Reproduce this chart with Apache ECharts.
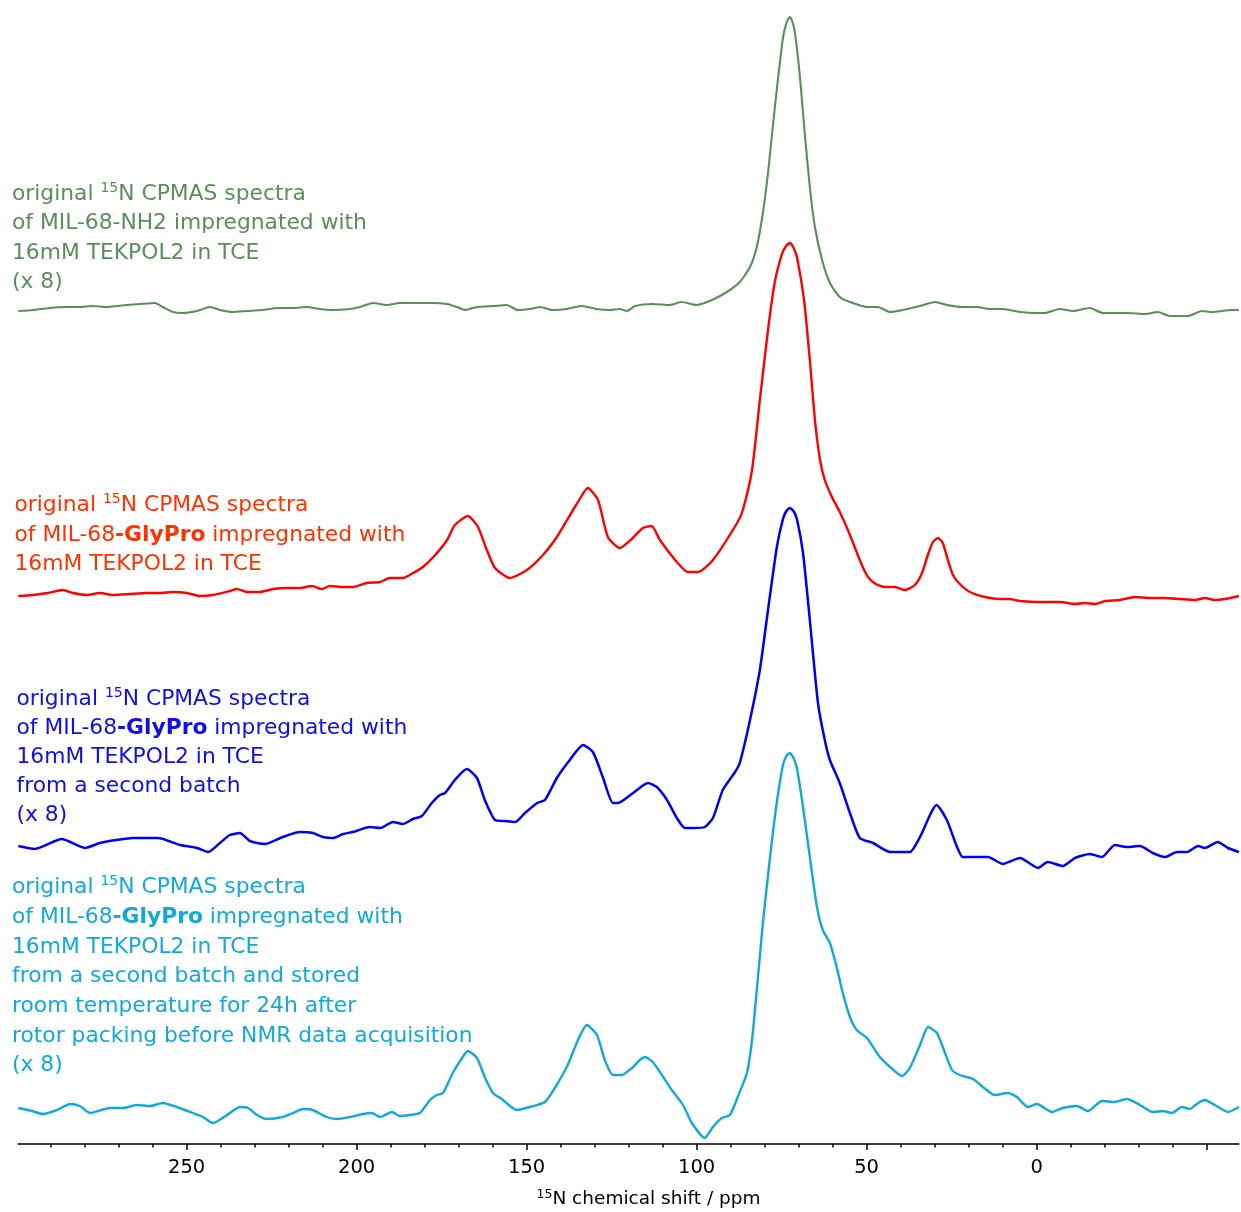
<!DOCTYPE html>
<html>
<head>
<meta charset="utf-8">
<script src="https://cdn.jsdelivr.net/npm/echarts@6/dist/echarts.min.js"></script>
<style>
html,body{margin:0;padding:0;background:#ffffff;}
#chart{width:1241px;height:1212px;}
</style>
</head>
<body>
<div id="chart"></div>
<script>
// ---- data: [chemical shift (ppm), relative intensity] ----
const greenSpectrum = [
[299.5,-1],[295.2,0],[290.2,2],[285.2,3],[281.4,3],[277.6,4],[273.4,3],[270.5,4],[267.6,5],[263.7,6],
[259.3,7],[257.0,3],[254.0,-2],[251.1,-3],[247.0,-1],[243.1,3],[240.2,0],[236.4,-2],[232.3,-1],[227.6,0],
[223.4,2],[218.7,2],[214.6,3],[210.8,1],[207.0,0],[202.0,1],[199.0,3],[195.2,7],[191.1,5],[187.3,7],
[181.4,7],[177.6,7],[173.4,6],[170.5,3],[168.1,0],[164.6,3],[159.9,4],[155.8,5],[152.6,0],[149.0,1],
[146.1,3],[142.3,0],[138.2,1],[133.8,4],[129.4,1],[125.5,0],[122.6,1],[120.5,-1],[118.1,4],[112.9,6],
[107.9,5],[104.4,8],[100.0,5],[95.5,10],[91.1,18],[87.3,28],[84.3,43],[82.3,63],[80.5,97],[79.0,137],
[77.6,183],[76.1,230],[74.6,272],[73.6,287],[72.6,293],[71.9,289],[71.1,278],[69.6,233],[68.2,177],[66.7,123],[65.2,83],[63.1,50],
[60.8,27],[57.9,13],[54.9,8],[49.9,3],[46.7,3],[43.1,-2],[39.3,0],[34.3,4],[29.9,8],[26.4,5],
[21.7,3],[17.6,3],[13.7,1],[9.9,1],[4.9,-2],[-0.4,-3],[-2.4,-3],[-6.8,1],[-10.7,-1],[-15.7,2],
[-19.5,-3],[-26.9,-3],[-31.9,-4],[-35.7,-2],[-39.2,-6],[-44.5,-6],[-48.6,-1],[-51.6,-2],[-57.4,0],[-59.5,0]
];
const redSpectrum = [
[299.5,0],[295.2,1],[290.8,3],[286.4,6],[283.4,3],[279.3,1],[275.5,3],[271.6,1],[266.7,2],[261.7,3],
[257.9,3],[254.0,4],[249.9,3],[246.1,0],[242.3,1],[237.3,5],[235.2,7],[232.3,4],[228.4,4],[224.6,7],
[220.5,8],[216.7,8],[213.1,10],[210.2,7],[207.9,10],[204.0,9],[201.1,9],[197.0,13],[193.1,14],[190.2,18],
[186.4,18],[183.4,23],[180.5,29],[176.9,41],[173.4,56],[171.1,71],[167.3,80],[164.3,69],[161.7,46],[159.3,28],
[154.9,18],[149.9,26],[145.2,41],[141.1,59],[138.1,76],[134.9,94],[132.0,108],[129.0,96],[126.1,59],[122.6,48],
[118.8,58],[115.8,68],[113.2,70],[110.8,56],[105.8,34],[102.6,24],[99.6,24],[95.2,36],[88.1,73],[86.4,86],
[83.7,126],[81.4,196],[79.0,266],[77.0,314],[74.9,342],[73.7,350],[72.6,353],[71.6,349],[70.5,339],[68.4,296],[66.7,236],[65.2,176],
[63.7,136],[62.3,116],[60.2,99],[57.9,84],[55.5,66],[53.4,48],[51.4,31],[49.6,19],[47.3,12],[44.6,9],
[41.7,9],[38.7,6],[35.8,11],[33.7,23],[32.0,41],[30.5,54],[29.0,58],[27.6,53],[26.1,36],[24.6,21],
[22.6,12],[19.6,4],[15.2,-1],[10.8,-3],[7.9,-3],[4.9,-5],[-1.0,-6],[-6.9,-6],[-11.3,-8],[-14.2,-7],
[-17.2,-8],[-20.1,-5],[-24.5,-4],[-28.9,-1],[-33.3,-2],[-37.7,-2],[-42.1,-3],[-46.6,-4],[-49.5,-2],[-52.4,-4],
[-55.4,-3],[-59.5,0]
];
const blueSpectrum = [
[299.5,2],[294.6,-1],[286.7,9],[279.9,0],[275.5,5],[272.6,7],[265.8,10],[258.7,10],[256.9,9],[251.9,3],
[246.9,0],[243.7,-4],[240.2,5],[237.3,13],[234.3,15],[231.4,7],[227.0,4],[221.7,11],[216.7,16],[212.9,15],
[209.9,11],[207.0,10],[204.0,14],[201.1,16],[196.1,21],[193.1,20],[189.3,26],[186.4,24],[183.4,29],[180.8,32],
[177.9,45],[175.5,53],[174.0,55],[171.1,68],[167.6,79],[164.6,70],[162.3,48],[159.3,28],[156.4,27],[153.4,26],
[150.5,35],[146.9,45],[144.6,48],[141.1,70],[137.3,88],[133.4,103],[130.5,96],[127.6,71],[124.6,45],[123.1,45],
[118.7,55],[114.3,65],[111.7,61],[108.7,48],[105.8,30],[103.4,20],[101.1,20],[97.6,21],[95.2,30],[92.3,58],
[88.7,76],[87.3,85],[84.3,128],[81.4,178],[79.0,238],[76.4,301],[74.6,329],[73.6,337],[72.6,340],[71.5,337],[70.5,329],[68.7,295],
[66.7,228],[64.3,145],[62.3,108],[60.8,88],[57.9,65],[54.9,35],[52.0,10],[48.1,5],[43.1,-4],[37.3,-4],
[34.3,11],[29.4,43],[26.4,28],[23.4,1],[21.7,-9],[16.7,-9],[14.3,-9],[9.9,-16],[4.9,-10],[-0.4,-20],
[-3.3,-14],[-7.7,-18],[-11.3,-10],[-15.7,-6],[-19.2,-9],[-23.0,3],[-26.6,1],[-30.4,2],[-34.2,-5],[-37.7,-9],
[-41.3,-4],[-44.2,-4],[-47.5,2],[-49.5,0],[-53.3,6],[-56.3,0],[-59.5,-4]
];
const cyanSpectrum = [
[299.5,0],[295.5,-3],[292.3,-6],[288.1,-2],[284.3,4],[281.4,2],[278.4,-5],[272.6,0],[268.7,0],[264.6,3],
[260.8,2],[257.0,5],[252.9,1],[248.2,-5],[245.2,-9],[242.3,-15],[238.1,-7],[234.3,1],[231.9,0],[229.3,-7],
[226.4,-11],[221.7,-9],[218.7,-5],[215.8,-1],[212.9,-2],[208.8,-9],[205.8,-11],[202.0,-9],[198.1,-6],[195.5,-5],
[193.1,-9],[189.6,-4],[187.3,-8],[184.3,-7],[181.4,-5],[178.4,8],[176.4,13],[174.6,15],[171.7,35],[169.0,50],
[167.3,57],[164.6,50],[162.3,31],[159.9,15],[157.3,9],[154.9,2],[152.9,-2],[149.0,1],[144.6,6],[141.7,20],
[137.9,43],[134.9,68],[132.3,83],[129.3,73],[127.0,48],[124.6,33],[122.0,33],[119.0,40],[116.7,48],[115.2,51],
[112.9,46],[110.2,33],[107.3,18],[104.0,3],[101.4,-15],[97.6,-30],[95.2,-19],[92.6,-10],[90.2,-7],[87.9,11],
[85.2,35],[83.7,68],[82.3,118],[80.5,185],[78.4,251],[76.4,306],[74.6,343],[73.6,352],[72.6,355],[71.5,350],[70.5,340],[68.7,301],
[66.7,251],[64.6,201],[62.9,178],[60.8,165],[58.8,141],[57.0,115],[54.9,91],[52.9,78],[49.9,70],[46.1,51],
[43.1,41],[39.6,32],[37.3,40],[34.3,63],[31.9,81],[29.3,75],[27.6,61],[24.9,38],[22.6,33],[18.7,29],
[15.8,21],[12.3,13],[8.4,15],[5.8,11],[2.6,1],[-0.1,4],[-4.5,-4],[-7.7,0],[-11.9,2],[-15.1,-3],
[-19.2,7],[-23.0,6],[-26.6,9],[-30.4,3],[-34.2,-4],[-37.1,-3],[-39.8,-5],[-42.7,1],[-45.1,-1],[-47.5,5],
[-49.5,8],[-52.4,3],[-56.3,-4],[-59.5,1]
];
const majorTickValues = [-50, 0, 50, 100, 150, 200, 250];
const tickLabelValues = [0, 50, 100, 150, 200, 250];
const minorTickValues = [-50,-40,-30,-20,-10,0,10,20,30,40,50,60,70,80,90,100,110,120,130,140,
                         150,160,170,180,190,200,210,220,230,240,250,260,270,280,290];
const axisTitle = ['15', 'N chemical shift / ppm'];

const greenLabel = ['original {sup|15}N CPMAS spectra', 'of MIL-68-NH2 impregnated with', '16mM TEKPOL2 in TCE', '(x 8)'];
const redLabel = ['original {sup|15}N CPMAS spectra', 'of MIL-68{b|-GlyPro} impregnated with', '16mM TEKPOL2 in TCE'];
const blueLabel = ['original {sup|15}N CPMAS spectra', 'of MIL-68{b|-GlyPro} impregnated with', '16mM TEKPOL2 in TCE',
                   'from a second batch', '(x 8)'];
const cyanLabel = ['original {sup|15}N CPMAS spectra', 'of MIL-68{b|-GlyPro} impregnated with', '16mM TEKPOL2 in TCE',
                   'from a second batch and stored', 'room temperature for 24h after',
                   'rotor packing before NMR data acquisition', '(x 8)'];

// ---- layout / styling ----
const FONT = 'DejaVu Sans';
const AXIS_Y = 1144;                       // pixel row of the x axis
const traces = [
  {data: greenSpectrum, base: 310,  line: '#5a8e5a', text: '#5a8e5a', width: 2.1, lines: greenLabel, lx: 12,   ly: 194.2, dy: 29.4},
  {data: redSpectrum,   base: 596,  line: '#ff0000', text: '#ff3300', width: 2.4, lines: redLabel,   lx: 14.5, ly: 505.8, dy: 29.2},
  {data: blueSpectrum,  base: 848,  line: '#0000f0', text: '#0f0fe6', width: 2.5, lines: blueLabel,  lx: 16.5, ly: 699.2, dy: 29.0},
  {data: cyanSpectrum,  base: 1108, line: '#12a9d9', text: '#12a9d9', width: 2.4, lines: cyanLabel,  lx: 12,   ly: 887.5, dy: 29.7}
];

const series = traces.map(t => ({
  type: 'line',
  data: t.data.map(p => [p[0], (AXIS_Y - t.base) + p[1]]),
  symbol: 'none',
  smooth: 0.2,
  lineStyle: {color: t.line, width: t.width},
  itemStyle: {color: t.line},
  clip: false,
  silent: true
}));

const richBase = (color) => ({
  sup: {fontSize: 14, lineHeight: 16.5, verticalAlign: 'top', fontFamily: FONT, fill: color},
  b: {fontSize: 21.8, lineHeight: 26, fontWeight: 'bold', fontFamily: FONT, fill: color}
});

const graphics = [];
traces.forEach(t => {
  t.lines.forEach((txt, i) => {
    graphics.push({
      type: 'text', silent: true,
      style: {
        x: t.lx, y: t.ly + i * t.dy, text: txt,
        fontSize: 21.8, lineHeight: 26, fontFamily: FONT, fill: t.text,
        align: 'left', verticalAlign: 'middle',
        rich: richBase(t.text)
      }
    });
  });
});
graphics.push({
  type: 'text', silent: true,
  style: {
    x: 648.5, y: 1199, text: '{sup|' + axisTitle[0] + '}' + axisTitle[1],
    fontSize: 18.5, lineHeight: 22, fontFamily: FONT, fill: '#000000',
    align: 'center', verticalAlign: 'middle',
    rich: {sup: {fontSize: 12.5, lineHeight: 14, verticalAlign: 'top', fontFamily: FONT, fill: '#000000'}}
  }
});

const chart = echarts.init(document.getElementById('chart'), null, {renderer: 'canvas'});
chart.setOption({
  animation: false,
  backgroundColor: '#ffffff',
  grid: {left: 18.3, right: 2.1, top: 0, bottom: 1212 - AXIS_Y, containLabel: false},
  xAxis: [
    {
      type: 'value', inverse: true, min: -59.5, max: 299.5, position: 'bottom',
      axisLine: {show: true, onZero: false, lineStyle: {color: '#000', width: 1.5}},
      axisTick: {show: true, customValues: majorTickValues, length: 6, lineStyle: {color: '#000', width: 1.5}},
      axisLabel: {show: true, customValues: tickLabelValues, fontFamily: FONT, fontSize: 19.5, lineHeight: 20,
                  color: '#000', margin: 14},
      splitLine: {show: false}
    },
    {
      type: 'value', inverse: true, min: -59.5, max: 299.5, position: 'bottom', offset: 0,
      axisLine: {show: false, onZero: false},
      axisTick: {show: true, customValues: minorTickValues, length: 3.5, lineStyle: {color: '#000', width: 1.5}},
      axisLabel: {show: false},
      splitLine: {show: false}
    }
  ],
  yAxis: {type: 'value', min: 0, max: AXIS_Y, show: false},
  series: series,
  graphic: graphics
});
</script>
</body>
</html>
